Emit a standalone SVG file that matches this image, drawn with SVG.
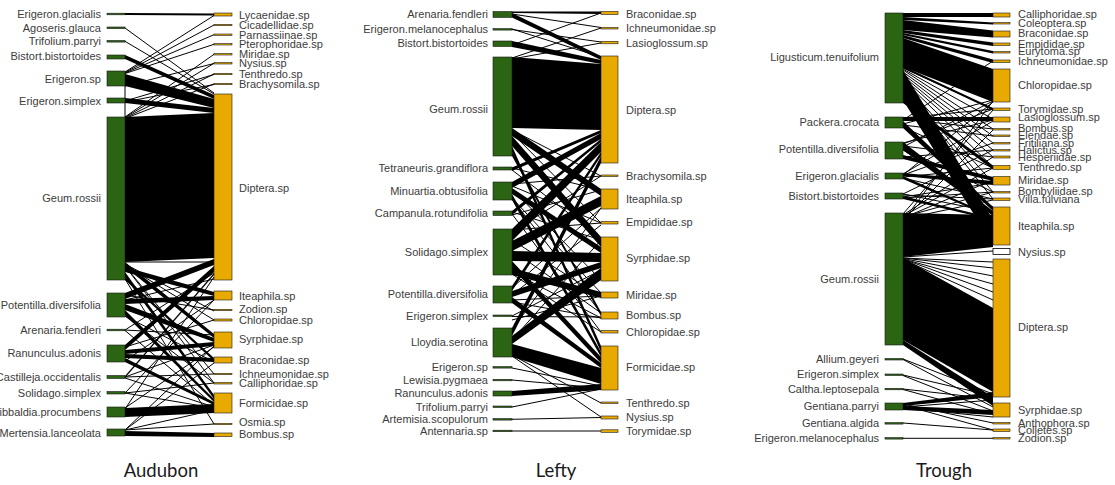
<svg xmlns="http://www.w3.org/2000/svg" width="1115" height="485" viewBox="0 0 1115 485">
<style>
.pl{fill:#2b6412;stroke:#1a1a1a;stroke-width:0.6}
.po{fill:#e8aa00;stroke:#1a1a1a;stroke-width:0.6}
.wh{fill:#ffffff;stroke:#000;stroke-width:0.8}
.lb{font-family:"Liberation Sans",Arial,sans-serif;font-size:11px;fill:#3c3c3c}
.le{text-anchor:end}
.e{fill:#000}
.t{stroke:#000;stroke-width:1;fill:none}
.t2{stroke:#000;stroke-width:2;fill:none}
.ttl{font-family:Lato,"Open Sans",sans-serif;font-size:18.5px;fill:#1a1a1a;text-anchor:middle}
</style>
<defs>
 <clipPath id="clipLefty"><rect x="362" y="0" width="380" height="485"/></clipPath>
 <clipPath id="clipTrough"><rect x="752" y="0" width="363" height="485"/></clipPath>
</defs>
<rect width="1115" height="485" fill="#fff"/>

<!-- ================= CONNECTORS ================= -->
<g id="connectors">
 <!-- Audubon -->
 <g id="aud-edges">
  <polygon class="e" points="125,55 214,95 214,99 125,59"/>
  <polygon class="e" points="125,74 214,99 214,108 125,86"/>
  <polygon class="e" points="125,98 214,108 214,113 125,103"/>
  <polygon class="e" points="125,117 214,113 214,258 125,262"/>
  <polygon class="e" points="125,262 214,334 214,338 125,267"/>
  <polygon class="e" points="125,267 214,292 214,296 125,272"/>
  <polygon class="e" points="125,272 214,395 214,399 125,277"/>
  <polygon class="e" points="125,277 214,358 214,361 125,280"/>
  <polygon class="e" points="125,293 214,259 214,265 125,299"/>
  <polygon class="e" points="125,299 214,296 214,300 125,304"/>
  <polygon class="e" points="125,304 214,338 214,342 125,310"/>
  <polygon class="e" points="125,310 214,399 214,402 125,315"/>
  <polygon class="e" points="125,345 214,266 214,272 125,350"/>
  <polygon class="e" points="125,350 214,342 214,346 125,354"/>
  <polygon class="e" points="125,354 214,358 214,362 125,358"/>
  <polygon class="e" points="125,358 214,402 214,405 125,362"/>
  <polygon class="e" points="125,408 214,404 214,413 125,417"/>
  <polygon class="e" points="125,431 214,433 214,437 125,436"/>
  <polygon class="e" points="125,376 214,273 214,275 125,378"/>
  <line class="t2" x1="125" y1="14" x2="214" y2="14.5"/>
  <line class="t" x1="125" y1="28" x2="214" y2="93"/>
  <line class="t" x1="125" y1="41.3" x2="214" y2="94"/>
  <line class="t" x1="125" y1="72" x2="214" y2="15.5"/>
  <line class="t" x1="125" y1="72.5" x2="214" y2="25"/>
  <line class="t" x1="125" y1="73" x2="214" y2="34.7"/>
  <line class="t" x1="125" y1="73.5" x2="214" y2="44.3"/>
  <line class="t" x1="125" y1="117" x2="214" y2="54.3"/>
  <line class="t" x1="125" y1="117.5" x2="214" y2="63.3"/>
  <line class="t" x1="125" y1="118" x2="214" y2="74"/>
  <line class="t" x1="125" y1="118.5" x2="214" y2="84"/>
  <line class="t" x1="125" y1="101" x2="214" y2="74.5"/>
  <line class="t" x1="125" y1="102" x2="214" y2="84.5"/>
  <line class="t" x1="125" y1="86" x2="214" y2="63.5"/>
  <line class="t" x1="125" y1="85" x2="125" y2="117"/>
  <line class="t" x1="125" y1="330" x2="214" y2="335"/>
  <line class="t" x1="125" y1="330" x2="214" y2="273"/>
  <line class="t" x1="125" y1="330.5" x2="214" y2="405"/>
  <line class="t" x1="125" y1="295" x2="214" y2="310"/>
  <line class="t" x1="125" y1="347" x2="214" y2="320"/>
  <line class="t" x1="125" y1="377" x2="214" y2="374"/>
  <line class="t" x1="125" y1="377" x2="214" y2="345"/>
  <line class="t" x1="125" y1="378" x2="214" y2="407"/>
  <line class="t" x1="125" y1="393" x2="214" y2="383"/>
  <line class="t" x1="125" y1="393" x2="214" y2="408"/>
  <line class="t" x1="125" y1="393" x2="214" y2="300"/>
  <line class="t" x1="125" y1="408" x2="214" y2="347"/>
  <line class="t" x1="125" y1="409" x2="214" y2="277"/>
  <line class="t" x1="125" y1="430" x2="214" y2="424"/>
  <line class="t" x1="125" y1="430" x2="214" y2="410"/>
  <line class="t" x1="125" y1="430" x2="214" y2="346"/>
  <line class="t" x1="125" y1="430" x2="214" y2="363"/>
  <line class="t" x1="125" y1="264" x2="214" y2="311"/>
  <line class="t" x1="125" y1="265" x2="214" y2="320"/>
  <line class="t" x1="125" y1="266" x2="214" y2="374"/>
  <line class="t" x1="125" y1="266" x2="214" y2="383"/>
  <line class="t" x1="125" y1="279" x2="214" y2="424"/>
  <line class="t" x1="125" y1="316" x2="214" y2="362"/>
  <line class="t" x1="125" y1="316" x2="214" y2="383"/>
  <line class="t" x1="125" y1="361" x2="214" y2="300"/>
  <line class="t" x1="125" y1="300" x2="214" y2="279"/>
  <line class="t" x1="125" y1="262" x2="214" y2="262"/>
 </g>
 <!-- Lefty -->
 <g id="lefty-edges">
  <polygon class="e" points="512,11.5 601,11.5 601,14 512,13"/>
  <polygon class="e" points="512,13 601,56 601,60 512,17.5"/>
  <polygon class="e" points="512,41 601,60 601,64 512,47"/>
  <polygon class="e" points="512,57 601,64 601,130 512,128"/>
  <polygon class="e" points="512,128 601,189 601,196 512,136"/>
  <polygon class="e" points="512,136 601,237 601,247 512,146"/>
  <polygon class="e" points="512,146 601,346 601,352 512,152"/>
  <polygon class="e" points="512,152 601,312 601,316 512,156"/>
  <polygon class="e" points="512,167.5 601,130 601,133 512,171"/>
  <polygon class="e" points="512,182 601,133 601,139 512,188"/>
  <polygon class="e" points="512,188 601,247 601,253 512,194"/>
  <polygon class="e" points="512,194 601,352 601,357 512,200"/>
  <polygon class="e" points="512,211 601,139 601,142 512,215"/>
  <polygon class="e" points="512,229 601,142 601,152 512,241"/>
  <polygon class="e" points="512,241 601,196 601,206 512,251"/>
  <polygon class="e" points="512,251 601,253 601,262 512,261"/>
  <polygon class="e" points="512,261 601,357 601,363 512,268"/>
  <polygon class="e" points="512,268 601,292 601,298 512,275"/>
  <polygon class="e" points="512,286 601,152 601,156 512,291"/>
  <polygon class="e" points="512,291 601,262 601,268 512,297"/>
  <polygon class="e" points="512,297 601,363 601,368 512,303"/>
  <polygon class="e" points="512,328 601,156 601,163 512,336"/>
  <polygon class="e" points="512,336 601,268 601,280 512,344"/>
  <polygon class="e" points="512,344 601,368 601,384 512,357"/>
  <polygon class="e" points="512,391 601,384 601,390 512,396"/>
  <line class="t" x1="512" y1="29" x2="601" y2="57"/>
  <line class="t" x1="512" y1="29.5" x2="601" y2="42"/>
  <line class="t" x1="512" y1="58" x2="601" y2="28"/>
  <line class="t" x1="512" y1="59" x2="601" y2="43"/>
  <line class="t" x1="512" y1="14" x2="601" y2="27.5"/>
  <line class="t" x1="512" y1="45" x2="601" y2="13"/>
  <line class="t" x1="512" y1="130" x2="601" y2="176"/>
  <line class="t" x1="512" y1="133" x2="601" y2="223"/>
  <line class="t" x1="512" y1="168" x2="601" y2="190"/>
  <line class="t" x1="512" y1="170" x2="601" y2="238"/>
  <line class="t" x1="512" y1="184" x2="601" y2="176"/>
  <line class="t" x1="512" y1="186" x2="601" y2="223"/>
  <line class="t" x1="512" y1="198" x2="601" y2="293"/>
  <line class="t" x1="512" y1="199" x2="601" y2="313"/>
  <line class="t" x1="512" y1="212" x2="601" y2="240"/>
  <line class="t" x1="512" y1="214" x2="601" y2="332"/>
  <line class="t" x1="512" y1="230" x2="601" y2="223"/>
  <line class="t" x1="512" y1="232" x2="601" y2="176"/>
  <line class="t" x1="512" y1="272" x2="601" y2="318"/>
  <line class="t" x1="512" y1="274" x2="601" y2="332"/>
  <line class="t" x1="512" y1="288" x2="601" y2="208"/>
  <line class="t" x1="512" y1="300" x2="601" y2="296"/>
  <line class="t" x1="512" y1="302" x2="601" y2="318"/>
  <line class="t" x1="512" y1="316" x2="601" y2="270"/>
  <line class="t" x1="512" y1="316.5" x2="601" y2="317"/>
  <line class="t" x1="512" y1="330" x2="601" y2="208"/>
  <line class="t" x1="512" y1="355" x2="601" y2="403"/>
  <line class="t" x1="512" y1="356" x2="601" y2="417"/>
  <line class="t" x1="512" y1="368" x2="601" y2="386"/>
  <line class="t" x1="512" y1="380" x2="601" y2="388"/>
  <line class="t" x1="512" y1="407" x2="601" y2="389"/>
  <line class="t" x1="512" y1="419.3" x2="601" y2="417.5"/>
  <line class="t" x1="512" y1="431" x2="601" y2="431"/>
  <line class="t" x1="512" y1="240" x2="601" y2="297"/>
  <line class="t" x1="512" y1="250" x2="601" y2="313"/>
  <line class="t" x1="512" y1="295" x2="601" y2="225"/>
  <line class="t" x1="512" y1="189" x2="601" y2="280"/>
  <line class="t" x1="512" y1="215" x2="601" y2="190"/>
  <line class="t" x1="512" y1="340" x2="601" y2="240"/>
  <line class="t" x1="512" y1="320" x2="601" y2="296"/>
 </g>
 <!-- Trough -->
 <g id="trough-edges">
  <polygon class="e" points="903,13 993,13 993,17 903,17"/>
  <polygon class="e" points="903,17 993,22.5 993,24.5 903,20"/>
  <polygon class="e" points="903,20 993,30.5 993,37.5 903,30"/>
  <polygon class="e" points="903,30 993,42.5 993,46 903,33"/>
  <polygon class="e" points="903,33 993,51 993,53.5 903,35"/>
  <polygon class="e" points="903,35 993,59.5 993,63 903,38"/>
  <polygon class="e" points="903,38 993,69 993,102 903,67"/>
  <polygon class="e" points="903,66 993,108 993,110.5 903,68"/>
  <polygon class="e" points="903,70 993,220 993,245 903,100"/>
  <polygon class="e" points="903,100 993,165.5 993,169.5 903,103"/>
  <polygon class="e" points="903,117 993,117 993,121 903,121"/>
  <polygon class="e" points="903,121 993,207 993,211 903,128"/>
  <polygon class="e" points="903,142 993,211 993,216 903,150"/>
  <polygon class="e" points="903,155 993,177 993,181 903,159"/>
  <polygon class="e" points="903,173 993,181 993,185 903,176"/>
  <polygon class="e" points="903,176 993,216 993,218 903,179"/>
  <polygon class="e" points="903,196 993,218 993,220 903,199"/>
  <polygon class="e" points="903,213 993,215 993,247 903,257"/>
  <polygon class="e" points="903,258 993,308 993,392 903,340"/>
  <polygon class="e" points="903,340 993,397 993,406 903,345"/>
  <polygon class="e" points="903,403 993,392 993,397 903,406"/>
  <polygon class="e" points="903,406 993,410 993,415 903,410"/>
  <line class="t" x1="903" y1="68" x2="993" y2="109"/>
  <line class="t" x1="903" y1="69" x2="993" y2="119"/>
  <line class="t" x1="903" y1="70" x2="993" y2="129"/>
  <line class="t" x1="903" y1="72" x2="993" y2="136"/>
  <line class="t" x1="903" y1="74" x2="993" y2="143"/>
  <line class="t" x1="903" y1="76" x2="993" y2="150"/>
  <line class="t" x1="903" y1="78" x2="993" y2="157"/>
  <line class="t" x1="903" y1="80" x2="993" y2="167"/>
  <line class="t" x1="903" y1="82" x2="993" y2="183"/>
  <line class="t" x1="903" y1="84" x2="993" y2="192"/>
  <line class="t" x1="903" y1="86" x2="993" y2="199"/>
  <line class="t" x1="903" y1="118" x2="993" y2="109"/>
  <line class="t" x1="903" y1="119" x2="993" y2="129"/>
  <line class="t" x1="903" y1="120" x2="993" y2="61"/>
  <line class="t" x1="903" y1="125" x2="993" y2="136"/>
  <line class="t" x1="903" y1="127" x2="993" y2="168"/>
  <line class="t" x1="903" y1="143" x2="993" y2="120"/>
  <line class="t" x1="903" y1="144" x2="993" y2="109"/>
  <line class="t" x1="903" y1="146" x2="993" y2="157"/>
  <line class="t" x1="903" y1="148" x2="993" y2="192"/>
  <line class="t" x1="903" y1="157" x2="993" y2="150"/>
  <line class="t" x1="903" y1="174" x2="993" y2="121"/>
  <line class="t" x1="903" y1="175" x2="993" y2="143"/>
  <line class="t" x1="903" y1="177" x2="993" y2="168"/>
  <line class="t" x1="903" y1="178" x2="993" y2="199"/>
  <line class="t" x1="903" y1="194" x2="993" y2="150"/>
  <line class="t" x1="903" y1="195" x2="993" y2="199"/>
  <line class="t" x1="903" y1="197" x2="993" y2="183"/>
  <line class="t" x1="903" y1="198" x2="993" y2="192"/>
  <line class="t" x1="903" y1="214" x2="993" y2="110"/>
  <line class="t" x1="903" y1="215" x2="993" y2="157"/>
  <line class="t" x1="903" y1="216" x2="993" y2="168"/>
  <line class="t" x1="903" y1="217" x2="993" y2="192"/>
  <line class="t" x1="903" y1="218" x2="993" y2="180"/>
  <line class="t" x1="903" y1="219" x2="993" y2="200"/>
  <line class="t" x1="903" y1="220" x2="993" y2="130"/>
  <line class="t" x1="903" y1="221" x2="993" y2="101"/>
  <line class="t" x1="903" y1="124" x2="993" y2="100"/>
  <line class="t" x1="903" y1="147" x2="993" y2="101"/>
  <line class="t" x1="903" y1="175" x2="993" y2="102"/>
  <line class="t" x1="903" y1="150" x2="993" y2="207"/>
  <line class="t" x1="903" y1="194" x2="993" y2="212"/>
  <line class="t" x1="903" y1="257" x2="993" y2="251"/>
  <line class="t" x1="903" y1="258" x2="993" y2="262"/>
  <line class="t" x1="903" y1="258" x2="993" y2="268"/>
  <line class="t" x1="903" y1="258.5" x2="993" y2="276"/>
  <line class="t" x1="903" y1="259" x2="993" y2="284"/>
  <line class="t" x1="903" y1="259" x2="993" y2="292"/>
  <line class="t" x1="903" y1="259.5" x2="993" y2="300"/>
  <line class="t" x1="903" y1="359" x2="993" y2="394"/>
  <line class="t" x1="903" y1="359.5" x2="993" y2="407"/>
  <line class="t" x1="903" y1="375" x2="993" y2="396"/>
  <line class="t" x1="903" y1="375.5" x2="993" y2="411"/>
  <line class="t" x1="903" y1="389" x2="993" y2="399"/>
  <line class="t" x1="903" y1="389.5" x2="993" y2="414"/>
  <line class="t" x1="903" y1="404" x2="993" y2="423"/>
  <line class="t" x1="903" y1="405" x2="993" y2="430"/>
  <line class="t" x1="903" y1="407" x2="993" y2="400"/>
  <line class="t" x1="903" y1="408" x2="993" y2="417"/>
  <line class="t" x1="903" y1="423" x2="993" y2="430"/>
  <line class="t" x1="903" y1="438.3" x2="993" y2="438.3"/>
 </g>
</g>

<!-- ================= AUDUBON NODES ================= -->
<g id="audubon">
 <g id="aud-erigeron-glacialis"><rect class="pl" x="107" y="13.2" width="18" height="1.6"/><text class="lb le" x="101" y="18">Erigeron.glacialis</text></g>
 <g id="aud-agoseris-glauca"><rect class="pl" x="107" y="27" width="18" height="1.6"/><text class="lb le" x="101" y="31.7">Agoseris.glauca</text></g>
 <g id="aud-trifolium-parryi"><rect class="pl" x="107" y="40.5" width="18" height="1.6"/><text class="lb le" x="101" y="45.3">Trifolium.parryi</text></g>
 <g id="aud-bistort-bistortoides"><rect class="pl" x="107" y="55" width="18" height="4"/><text class="lb le" x="101" y="60">Bistort.bistortoides</text></g>
 <g id="aud-erigeron-sp"><rect class="pl" x="107" y="71" width="18" height="15"/><text class="lb le" x="101" y="83">Erigeron.sp</text></g>
 <g id="aud-erigeron-simplex"><rect class="pl" x="107" y="98" width="18" height="5"/><text class="lb le" x="101" y="104.7">Erigeron.simplex</text></g>
 <g id="aud-geum-rossii"><rect class="pl" x="107" y="117" width="18" height="163"/><text class="lb le" x="101" y="202">Geum.rossii</text></g>
 <g id="aud-potentilla-diversifolia"><rect class="pl" x="107" y="293" width="18" height="24"/><text class="lb le" x="101" y="309">Potentilla.diversifolia</text></g>
 <g id="aud-arenaria-fendleri"><rect class="pl" x="107" y="329.2" width="18" height="1.6"/><text class="lb le" x="101" y="334">Arenaria.fendleri</text></g>
 <g id="aud-ranunculus-adonis"><rect class="pl" x="107" y="345" width="18" height="17"/><text class="lb le" x="101" y="356.7">Ranunculus.adonis</text></g>
 <g id="aud-castilleja-occidentalis"><rect class="pl" x="107" y="375.5" width="18" height="3"/><text class="lb le" x="101" y="380.7">Castilleja.occidentalis</text></g>
 <g id="aud-solidago-simplex"><rect class="pl" x="107" y="391.5" width="18" height="2.5"/><text class="lb le" x="101" y="396.7">Solidago.simplex</text></g>
 <g id="aud-sibbaldia-procumbens"><rect class="pl" x="107" y="407" width="18" height="10"/><text class="lb le" x="101" y="416.3">Sibbaldia.procumbens</text></g>
 <g id="aud-mertensia-lanceolata"><rect class="pl" x="107" y="429" width="18" height="7"/><text class="lb le" x="101" y="436.7">Mertensia.lanceolata</text></g>

 <g id="aud-lycaenidae"><rect class="po" x="214" y="13" width="18" height="3"/><text class="lb" x="239" y="18.7">Lycaenidae.sp</text></g>
 <g id="aud-cicadellidae"><rect class="po" x="214" y="24.3" width="18" height="1.4"/><text class="lb" x="239" y="29">Cicadellidae.sp</text></g>
 <g id="aud-parnassiinae"><rect class="po" x="214" y="34" width="18" height="1.4"/><text class="lb" x="239" y="38.7">Parnassiinae.sp</text></g>
 <g id="aud-pterophoridae"><rect class="po" x="214" y="43.6" width="18" height="1.4"/><text class="lb" x="239" y="48.3">Pterophoridae.sp</text></g>
 <g id="aud-miridae"><rect class="po" x="214" y="53.6" width="18" height="1.4"/><text class="lb" x="239" y="58.3">Miridae.sp</text></g>
 <g id="aud-nysius"><rect class="po" x="214" y="62.6" width="18" height="1.4"/><text class="lb" x="239" y="67.3">Nysius.sp</text></g>
 <g id="aud-tenthredo"><rect class="po" x="214" y="73.3" width="18" height="1.4"/><text class="lb" x="239" y="78">Tenthredo.sp</text></g>
 <g id="aud-brachysomila"><rect class="po" x="214" y="83.3" width="18" height="1.4"/><text class="lb" x="239" y="88">Brachysomila.sp</text></g>
 <g id="aud-diptera"><rect class="po" x="214" y="94" width="18" height="186"/><text class="lb" x="239" y="191.7">Diptera.sp</text></g>
 <g id="aud-iteaphila"><rect class="po" x="214" y="291" width="18" height="9"/><text class="lb" x="239" y="300">Iteaphila.sp</text></g>
 <g id="aud-zodion"><rect class="po" x="214" y="309.3" width="18" height="1.4"/><text class="lb" x="239" y="313.3">Zodion.sp</text></g>
 <g id="aud-chloropidae"><rect class="po" x="214" y="319" width="18" height="2"/><text class="lb" x="239" y="324">Chloropidae.sp</text></g>
 <g id="aud-syrphidae"><rect class="po" x="214" y="332" width="18" height="16"/><text class="lb" x="239" y="343.3">Syrphidae.sp</text></g>
 <g id="aud-braconidae"><rect class="po" x="214" y="357" width="18" height="6"/><text class="lb" x="239" y="364">Braconidae.sp</text></g>
 <g id="aud-ichneumonidae"><rect class="po" x="214" y="373.3" width="18" height="1.4"/><text class="lb" x="239" y="378">Ichneumonidae.sp</text></g>
 <g id="aud-calliphoridae"><rect class="po" x="214" y="382.6" width="18" height="1.4"/><text class="lb" x="239" y="387.3">Calliphoridae.sp</text></g>
 <g id="aud-formicidae"><rect class="po" x="214" y="393" width="18" height="20"/><text class="lb" x="239" y="406.7">Formicidae.sp</text></g>
 <g id="aud-osmia"><rect class="po" x="214" y="423.3" width="18" height="1.4"/><text class="lb" x="239" y="426.3">Osmia.sp</text></g>
 <g id="aud-bombus"><rect class="po" x="214" y="433" width="18" height="3.5"/><text class="lb" x="239" y="438.3">Bombus.sp</text></g>
</g>

<!-- ================= LEFTY NODES ================= -->
<g id="lefty">
 <g id="lef-arenaria-fendleri"><rect class="pl" x="493" y="11.5" width="19" height="6"/><text class="lb le" x="488" y="18">Arenaria.fendleri</text></g>
 <g id="lef-erigeron-melanocephalus"><rect class="pl" x="493" y="28.6" width="19" height="1.5"/><text class="lb le" x="488" y="33.3" clip-path="url(#clipLefty)">Erigeron.melanocephalus</text></g>
 <g id="lef-bistort-bistortoides"><rect class="pl" x="493" y="41" width="19" height="5.5"/><text class="lb le" x="488" y="47.3">Bistort.bistortoides</text></g>
 <g id="lef-geum-rossii"><rect class="pl" x="493" y="57" width="19" height="99"/><text class="lb le" x="488" y="112.7">Geum.rossii</text></g>
 <g id="lef-tetraneuris-grandiflora"><rect class="pl" x="493" y="167" width="19" height="3"/><text class="lb le" x="488" y="172.3">Tetraneuris.grandiflora</text></g>
 <g id="lef-minuartia-obtusifolia"><rect class="pl" x="493" y="182" width="19" height="18"/><text class="lb le" x="488" y="195">Minuartia.obtusifolia</text></g>
 <g id="lef-campanula-rotundifolia"><rect class="pl" x="493" y="211" width="19" height="4.5"/><text class="lb le" x="488" y="217.3">Campanula.rotundifolia</text></g>
 <g id="lef-solidago-simplex"><rect class="pl" x="493" y="229" width="19" height="46"/><text class="lb le" x="488" y="256.3">Solidago.simplex</text></g>
 <g id="lef-potentilla-diversifolia"><rect class="pl" x="493" y="286" width="19" height="17"/><text class="lb le" x="488" y="298">Potentilla.diversifolia</text></g>
 <g id="lef-erigeron-simplex"><rect class="pl" x="493" y="315" width="19" height="1.5"/><text class="lb le" x="488" y="319.7">Erigeron.simplex</text></g>
 <g id="lef-lloydia-serotina"><rect class="pl" x="493" y="328" width="19" height="29"/><text class="lb le" x="488" y="345.7">Lloydia.serotina</text></g>
 <g id="lef-erigeron-sp"><rect class="pl" x="493" y="366.6" width="19" height="1.5"/><text class="lb le" x="488" y="371.3">Erigeron.sp</text></g>
 <g id="lef-lewisia-pygmaea"><rect class="pl" x="493" y="379.3" width="19" height="1.5"/><text class="lb le" x="488" y="384">Lewisia.pygmaea</text></g>
 <g id="lef-ranunculus-adonis"><rect class="pl" x="493" y="391" width="19" height="5"/><text class="lb le" x="488" y="397.3">Ranunculus.adonis</text></g>
 <g id="lef-trifolium-parryi"><rect class="pl" x="493" y="406" width="19" height="1.5"/><text class="lb le" x="488" y="410.7">Trifolium.parryi</text></g>
 <g id="lef-artemisia-scopulorum"><rect class="pl" x="493" y="418.6" width="19" height="1.5"/><text class="lb le" x="488" y="423.3">Artemisia.scopulorum</text></g>
 <g id="lef-antennaria-sp"><rect class="pl" x="493" y="430.2" width="19" height="1.5"/><text class="lb le" x="488" y="434.7">Antennaria.sp</text></g>

 <g id="lef-braconidae"><rect class="po" x="601" y="11.5" width="17" height="3"/><text class="lb" x="626" y="18">Braconidae.sp</text></g>
 <g id="lef-ichneumonidae"><rect class="po" x="601" y="27.5" width="17" height="1.5"/><text class="lb" x="626" y="32.3">Ichneumonidae.sp</text></g>
 <g id="lef-lasioglossum"><rect class="po" x="601" y="41.3" width="17" height="2.5"/><text class="lb" x="626" y="46.7">Lasioglossum.sp</text></g>
 <g id="lef-diptera"><rect class="po" x="601" y="56" width="17" height="107"/><text class="lb" x="626" y="114">Diptera.sp</text></g>
 <g id="lef-brachysomila"><rect class="po" x="601" y="175" width="17" height="1.5"/><text class="lb" x="626" y="179.7">Brachysomila.sp</text></g>
 <g id="lef-iteaphila"><rect class="po" x="601" y="189" width="17" height="20"/><text class="lb" x="626" y="203.3">Iteaphila.sp</text></g>
 <g id="lef-empididae"><rect class="po" x="601" y="221.5" width="17" height="2.5"/><text class="lb" x="626" y="226.3">Empididae.sp</text></g>
 <g id="lef-syrphidae"><rect class="po" x="601" y="237" width="17" height="44"/><text class="lb" x="626" y="262.3">Syrphidae.sp</text></g>
 <g id="lef-miridae"><rect class="po" x="601" y="292" width="17" height="6"/><text class="lb" x="626" y="299">Miridae.sp</text></g>
 <g id="lef-bombus"><rect class="po" x="601" y="312" width="17" height="7"/><text class="lb" x="626" y="319">Bombus.sp</text></g>
 <g id="lef-chloropidae"><rect class="po" x="601" y="330.5" width="17" height="2.5"/><text class="lb" x="626" y="335.7">Chloropidae.sp</text></g>
 <g id="lef-formicidae"><rect class="po" x="601" y="346" width="17" height="44"/><text class="lb" x="626" y="370.7">Formicidae.sp</text></g>
 <g id="lef-tenthredo"><rect class="po" x="601" y="402" width="17" height="1.5"/><text class="lb" x="626" y="406.7">Tenthredo.sp</text></g>
 <g id="lef-nysius"><rect class="po" x="601" y="416" width="17" height="3"/><text class="lb" x="626" y="421.3">Nysius.sp</text></g>
 <g id="lef-torymidae"><rect class="po" x="601" y="429.8" width="17" height="2.5"/><text class="lb" x="626" y="434.7">Torymidae.sp</text></g>
</g>

<!-- ================= TROUGH NODES ================= -->
<g id="trough">
 <g id="tro-ligusticum-tenuifolium"><rect class="pl" x="885" y="13" width="18" height="90"/><text class="lb le" x="879" y="60.7">Ligusticum.tenuifolium</text></g>
 <g id="tro-packera-crocata"><rect class="pl" x="885" y="117" width="18" height="11"/><text class="lb le" x="879" y="126.3">Packera.crocata</text></g>
 <g id="tro-potentilla-diversifolia"><rect class="pl" x="885" y="142" width="18" height="17"/><text class="lb le" x="879" y="153.3">Potentilla.diversifolia</text></g>
 <g id="tro-erigeron-glacialis"><rect class="pl" x="885" y="173" width="18" height="6"/><text class="lb le" x="879" y="179.7">Erigeron.glacialis</text></g>
 <g id="tro-bistort-bistortoides"><rect class="pl" x="885" y="193" width="18" height="6"/><text class="lb le" x="879" y="199.7">Bistort.bistortoides</text></g>
 <g id="tro-geum-rossii"><rect class="pl" x="885" y="213" width="18" height="132"/><text class="lb le" x="879" y="283.3">Geum.rossii</text></g>
 <g id="tro-allium-geyeri"><rect class="pl" x="885" y="358.5" width="18" height="1.5"/><text class="lb le" x="879" y="363.3">Allium.geyeri</text></g>
 <g id="tro-erigeron-simplex"><rect class="pl" x="885" y="374" width="18" height="1.5"/><text class="lb le" x="879" y="378.3">Erigeron.simplex</text></g>
 <g id="tro-caltha-leptosepala"><rect class="pl" x="885" y="388.3" width="18" height="1.5"/><text class="lb le" x="879" y="393">Caltha.leptosepala</text></g>
 <g id="tro-gentiana-parryi"><rect class="pl" x="885" y="403" width="18" height="7"/><text class="lb le" x="879" y="410">Gentiana.parryi</text></g>
 <g id="tro-gentiana-algida"><rect class="pl" x="885" y="422.6" width="18" height="1.5"/><text class="lb le" x="879" y="427.3">Gentiana.algida</text></g>
 <g id="tro-erigeron-melanocephalus"><rect class="pl" x="885" y="437.6" width="18" height="1.5"/><text class="lb le" x="879" y="442.3" clip-path="url(#clipTrough)">Erigeron.melanocephalus</text></g>

 <g id="tro-calliphoridae"><rect class="po" x="993" y="13" width="17" height="4"/><text class="lb" x="1018" y="18">Calliphoridae.sp</text></g>
 <g id="tro-coleoptera"><rect class="po" x="993" y="22.6" width="17" height="1.4"/><text class="lb" x="1018" y="26.7">Coleoptera.sp</text></g>
 <g id="tro-braconidae"><rect class="po" x="993" y="31" width="17" height="6"/><text class="lb" x="1018" y="37">Braconidae.sp</text></g>
 <g id="tro-empididae"><rect class="po" x="993" y="43" width="17" height="2.5"/><text class="lb" x="1018" y="48">Empididae.sp</text></g>
 <g id="tro-eurytoma"><rect class="po" x="993" y="51.6" width="17" height="1.4"/><text class="lb" x="1018" y="55.3">Eurytoma.sp</text></g>
 <g id="tro-ichneumonidae"><rect class="po" x="993" y="60" width="17" height="2.5"/><text class="lb" x="1018" y="64.7">Ichneumonidae.sp</text></g>
 <g id="tro-chloropidae"><rect class="po" x="993" y="69" width="17" height="33"/><text class="lb" x="1018" y="89">Chloropidae.sp</text></g>
 <g id="tro-torymidae"><rect class="po" x="993" y="108" width="17" height="2.5"/><text class="lb" x="1018" y="113">Torymidae.sp</text></g>
 <g id="tro-lasioglossum"><rect class="po" x="993" y="117" width="17" height="5"/><text class="lb" x="1018" y="121">Lasioglossum.sp</text></g>
 <g id="tro-bombus"><rect class="po" x="993" y="128.6" width="17" height="1.4"/><text class="lb" x="1018" y="132">Bombus.sp</text></g>
 <g id="tro-elendae"><rect class="po" x="993" y="135" width="17" height="1.5"/><text class="lb" x="1018" y="139">Elendae.sp</text></g>
 <g id="tro-fritiliana"><rect class="po" x="993" y="142.6" width="17" height="1.4"/><text class="lb" x="1018" y="147">Fritiliana.sp</text></g>
 <g id="tro-halictus"><rect class="po" x="993" y="149.6" width="17" height="1.4"/><text class="lb" x="1018" y="154">Halictus.sp</text></g>
 <g id="tro-hesperiidae"><rect class="po" x="993" y="156" width="17" height="2"/><text class="lb" x="1018" y="161">Hesperiidae.sp</text></g>
 <g id="tro-tenthredo"><rect class="po" x="993" y="165.5" width="17" height="4"/><text class="lb" x="1018" y="171">Tenthredo.sp</text></g>
 <g id="tro-miridae"><rect class="po" x="993" y="176.5" width="17" height="8.5"/><text class="lb" x="1018" y="184">Miridae.sp</text></g>
 <g id="tro-bombyliidae"><rect class="po" x="993" y="191.6" width="17" height="1.4"/><text class="lb" x="1018" y="195">Bombyliidae.sp</text></g>
 <g id="tro-villa-fulviana"><rect class="po" x="993" y="198" width="17" height="2.5"/><text class="lb" x="1018" y="202.5">Villa.fulviana</text></g>
 <g id="tro-iteaphila"><rect class="po" x="993" y="207" width="17" height="38"/><text class="lb" x="1018" y="230">Iteaphila.sp</text></g>
 <g id="tro-nysius"><rect class="wh" x="993" y="248.5" width="17" height="6"/><text class="lb" x="1018" y="256.3">Nysius.sp</text></g>
 <g id="tro-diptera"><rect class="po" x="993" y="259" width="17" height="138"/><text class="lb" x="1018" y="331.3">Diptera.sp</text></g>
 <g id="tro-syrphidae"><rect class="po" x="993" y="403" width="17" height="14"/><text class="lb" x="1018" y="414">Syrphidae.sp</text></g>
 <g id="tro-anthophora"><rect class="po" x="993" y="422.6" width="17" height="1.4"/><text class="lb" x="1018" y="427.3">Anthophora.sp</text></g>
 <g id="tro-colletes"><rect class="po" x="993" y="429" width="17" height="2.5"/><text class="lb" x="1018" y="434">Colletes.sp</text></g>
 <g id="tro-zodion"><rect class="po" x="993" y="437.6" width="17" height="1.4"/><text class="lb" x="1018" y="442.3">Zodion.sp</text></g>
</g>

<g id="titles">
 <text class="ttl" x="161" y="477">Audubon</text>
 <text class="ttl" x="556" y="477">Lefty</text>
 <text class="ttl" x="944" y="477">Trough</text>
</g>
</svg>
